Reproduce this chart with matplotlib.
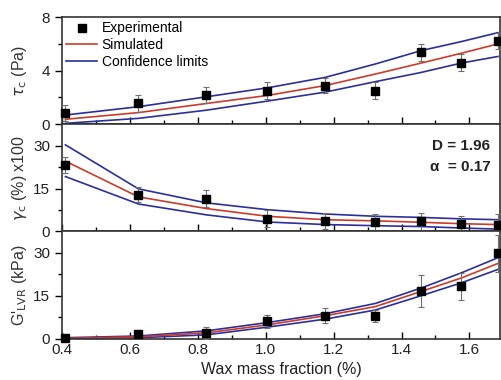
import numpy as np
import matplotlib
matplotlib.use("Agg")
import matplotlib.pyplot as plt
from matplotlib.lines import Line2D

plt.rcParams['font.family'] = ['Liberation Sans', 'DejaVu Sans']

# wax mass fraction (%)
wax = [0.41, 0.625, 0.825, 1.005, 1.175, 1.323, 1.458, 1.576, 1.684]

# yield stress tau_c (Pa)
tau_exp = [0.87, 1.56, 2.15, 2.52, 2.89, 2.52, 5.36, 4.61, 6.24]
tau_err = [0.6, 0.65, 0.6, 0.63, 0.55, 0.65, 0.65, 0.6, 0.6]
tau_sim = [0.37, 0.87, 1.55, 2.15, 2.89, 3.75, 4.57, 5.3, 6.0]
tau_up = [0.69, 1.31, 2.05, 2.72, 3.5, 4.5, 5.5, 6.17, 6.84]
tau_lo = [0.07, 0.44, 1.05, 1.73, 2.4, 3.18, 3.87, 4.57, 5.06]

# critical strain gamma_c (%) x100
gam_exp = [23.2, 12.9, 11.5, 4.4, 3.8, 3.2, 3.5, 2.7, 2.4]
gam_err = [2.8, 2.5, 2.9, 3.0, 2.8, 2.8, 3.0, 2.8, 3.6]
gam_sim = [24.6, 12.1, 8.0, 5.3, 4.1, 3.7, 3.2, 2.7, 2.4]
gam_up = [30.3, 14.9, 10.0, 7.6, 6.1, 5.3, 4.9, 4.4, 4.1]
gam_lo = [19.2, 9.6, 5.8, 3.3, 2.4, 2.0, 1.7, 1.2, 0.8]

# storage modulus G'_LVR (kPa)
g_exp = [0.35, 1.5, 1.9, 6.0, 8.0, 7.9, 16.8, 18.3, 29.8]
g_err = [0.4, 0.6, 2.1, 2.2, 2.6, 2.0, 5.6, 4.8, 6.5]
g_sim = [0.1, 0.6, 2.0, 4.8, 8.0, 11.2, 16.5, 21.2, 26.3]
g_up = [0.3, 0.9, 2.7, 5.6, 8.7, 12.3, 17.7, 23.0, 28.3]
g_lo = [0.0, 0.3, 1.3, 4.0, 6.8, 10.0, 15.0, 19.5, 24.2]

red = '#cc3b2a'
blue = '#2b2f9a'

fig, axes = plt.subplots(3, 1, figsize=(5.02, 3.8), dpi=100, sharex=True)
fig.subplots_adjust(left=0.1235, right=0.996, bottom=0.109, top=0.955, hspace=0)

panels = [
    (tau_exp, tau_err, tau_sim, tau_up, tau_lo, (0, 8), [0, 4, 8], [2, 6], r'$\tau_\mathrm{c}$ (Pa)'),
    (gam_exp, gam_err, gam_sim, gam_up, gam_lo, (0, 37.5), [0, 15, 30], [7.5, 22.5], r'$\gamma_\mathrm{c}$ (%) x100'),
    (g_exp, g_err, g_sim, g_up, g_lo, (0, 37.5), [0, 15, 30], [7.5, 22.5], r"G'$_\mathrm{LVR}$ (kPa)"),
]

for i, (ax, (ye, err, ys, yu, yl, ylim, yt, ymt, lab)) in enumerate(zip(axes, panels)):
    ax.plot(wax, yu, color=blue, lw=1.2, zorder=2)
    ax.plot(wax, yl, color=blue, lw=1.2, zorder=2)
    ax.plot(wax, ys, color=red, lw=1.2, zorder=2)
    eb = ax.errorbar(wax, ye, yerr=err, fmt='none', ecolor='#707070', elinewidth=0.8,
                     capsize=2.5, capthick=0.8, zorder=3)
    if i == 1:
        for art in eb.lines[1] + eb.lines[2]:
            art.set_clip_on(False)
    ax.plot(wax, ye, 's', color='black', ms=6, zorder=4, clip_on=False)
    ax.set_ylim(*ylim)
    ax.set_yticks(yt)
    ax.set_yticks(ymt, minor=True)
    ax.set_ylabel(lab, fontsize=11.5, color='#333333')
    ax.set_xlim(0.4, 1.69)
    ax.set_xticks(np.arange(0.4, 1.61, 0.2))
    ax.set_xticks(np.arange(0.5, 1.7, 0.2), minor=True)
    ax.tick_params(axis='x', which='major', direction='in', length=5, width=1)
    ax.tick_params(axis='x', which='minor', direction='in', length=3, width=1)
    ax.tick_params(axis='y', which='major', direction='out', length=5, width=1)
    ax.tick_params(axis='y', which='minor', direction='out', length=3, width=1)
    ax.tick_params(labelsize=11, labelcolor='#222222')
    for s in ax.spines.values():
        s.set_linewidth(1.2)
        s.set_color('#333333')
    ax.yaxis.set_label_coords(-0.075, 0.5)

axes[2].set_xticklabels(['0.4', '0.6', '0.8', '1.0', '1.2', '1.4', '1.6'])
axes[2].set_xlabel('Wax mass fraction (%)', fontsize=11.5, labelpad=3, color='#222222')

handles = [
    Line2D([], [], marker='s', color='black', ls='none', ms=6),
    Line2D([], [], color=red, lw=1.2),
    Line2D([], [], color=blue, lw=1.2),
]
axes[0].legend(handles, ['Experimental', 'Simulated', 'Confidence limits'],
               loc='upper left', bbox_to_anchor=(0.01, 0.96), frameon=False,
               fontsize=10, handlelength=2.2, handletextpad=0.35,
               labelspacing=0.2, borderpad=0, borderaxespad=0)

axes[1].text(0.978, 0.8, 'D = 1.96', transform=axes[1].transAxes, ha='right',
             va='center', fontsize=11, fontweight='bold', color='#222222')
axes[1].text(0.978, 0.6, 'α  = 0.17', transform=axes[1].transAxes, ha='right',
             va='center', fontsize=11, fontweight='bold', color='#222222')

fig.savefig('out.png', dpi=100)
